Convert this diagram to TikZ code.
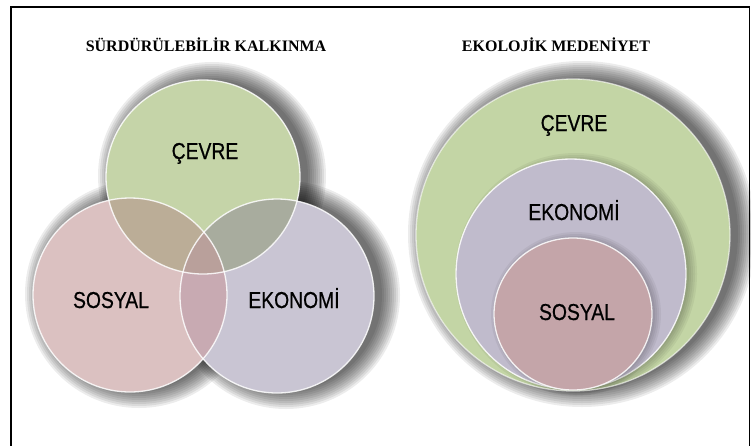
\documentclass[tikz,border=0pt]{standalone}
\usepackage{fontspec}
\setmainfont{Liberation Serif}
\newfontfamily\lblfont[FakeStretch=0.84,FakeBold=0.6]{Liberation Sans}
\usepackage{xcolor}

\definecolor{cevreG}{HTML}{C5D4A8}
\definecolor{sosyalP}{HTML}{DBC1C1}
\definecolor{ekoL}{HTML}{C9C5D3}
\definecolor{gpMix}{HTML}{BBAD97}
\definecolor{glMix}{HTML}{A8AC9E}
\definecolor{plMix}{HTML}{C8AAB2}
\definecolor{allMix}{HTML}{B9A09B}
\definecolor{cevreR}{HTML}{C3D5A5}
\definecolor{ekoR}{HTML}{C0BBCC}
\definecolor{sosyalR}{HTML}{C4A5A9}

\begin{document}
\begin{tikzpicture}[x=1pt,y=-1pt,
  heading/.style={font=\fontsize{16}{18}\selectfont\bfseries, inner sep=0pt},
  lbltext/.style={font=\lblfont\fontsize{23}{25}\selectfont, inner sep=0pt, anchor=base},
  rim/.style={draw=white, line width=1.3pt, draw opacity=0.85}]
  \useasboundingbox (0,0) rectangle (751,445);
  \fill[white] (0,0) rectangle (751,445);

  % Frame
  \draw[line width=1.5pt] (11,450) -- (11,7) -- (749.5,7) -- (749.5,450);

  % Headings
  \node[heading] (headL) at (206,45) {SÜRDÜRÜLEBİLİR KALKINMA};
  \node[heading] (headR) at (556,45) {EKOLOJİK MEDENİYET};

  % Soft shadows, left diagram
  \foreach \cx/\cy/\r in {203/177/97, 130/295/97, 277/296/97}
    \foreach \k in {0,...,9}
      \fill[black, opacity=0.075] (\cx+9,\cy-1) circle ({\r+17-2*\k});

  % Soft shadow, right diagram
  \foreach \k in {0,...,9}
    \fill[black, opacity=0.075] (582,234) circle[x radius={157+17-2*\k}, y radius={156+17-2*\k}];

  % Left diagram: three circles
  \fill[cevreG] (203,177) circle (97);
  \fill[sosyalP] (130,295) circle (97);
  \fill[ekoL] (277,296) circle (97);
  % Overlaps
  \begin{scope}
    \clip (203,177) circle (97);
    \fill[gpMix] (130,295) circle (97);
    \fill[glMix] (277,296) circle (97);
  \end{scope}
  \begin{scope}
    \clip (130,295) circle (97);
    \fill[plMix] (277,296) circle (97);
    \clip (277,296) circle (97);
    \fill[allMix] (203,177) circle (97);
  \end{scope}
  % Rims
  \draw[rim] (203,177) circle (97);
  \draw[rim] (130,295) circle (97);
  \draw[rim] (277,296) circle (97);

  % Right diagram: nested circles
  \fill[cevreR] (573,235) circle[x radius=157, y radius=156];
  \foreach \k in {0,...,5}
    \fill[black, opacity=0.05] (576,274) circle ({115+6-2*\k});
  \fill[ekoR] (571,274) circle (115);
  \draw[rim] (571,274) circle (115);
  \foreach \k in {0,...,5}
    \fill[black, opacity=0.05] (576,314) circle[x radius={79+6-2*\k}, y radius={76+6-2*\k}];
  \fill[sosyalR] (573,314) circle[x radius=79, y radius=76];
  \draw[rim] (573,314) circle[x radius=79, y radius=76];
  \draw[rim, draw opacity=0.6] (573,235) circle[x radius=157, y radius=156];

  % Labels
  \node[lbltext] (cevreLbl) at (205,159) {ÇEVRE};
  \node[lbltext] (sosyalLbl) at (111,308) {SOSYAL};
  \node[lbltext] (ekoLbl) at (294,308) {EKONOMİ};
  \node[lbltext] (cevreRLbl) at (574,131) {ÇEVRE};
  \node[lbltext] (ekoRLbl) at (574,220) {EKONOMİ};
  \node[lbltext] (sosyalRLbl) at (577,320) {SOSYAL};
\end{tikzpicture}
\end{document}
